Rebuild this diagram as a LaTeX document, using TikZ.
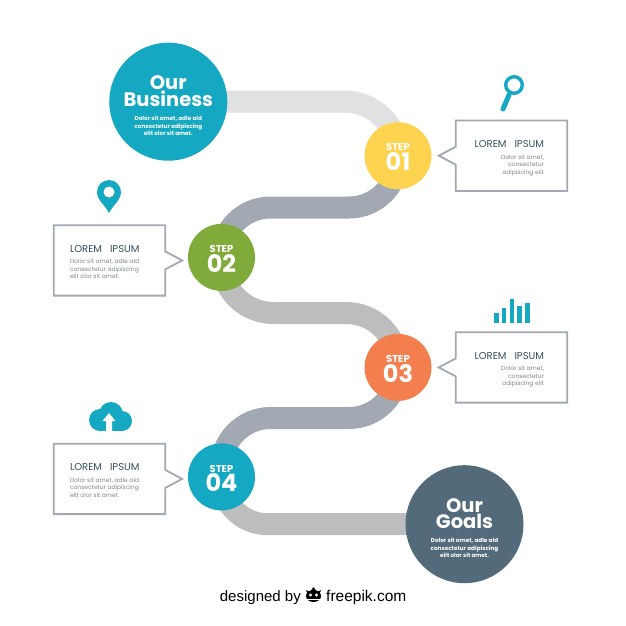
\documentclass[tikz,border=0pt]{standalone}
\usepackage{fontspec}
\usepackage{xcolor}
\usetikzlibrary{positioning, calc, backgrounds}
\setmainfont{Poppins}
\newfontfamily\footfont{Liberation Sans}
\definecolor{tealblue}{HTML}{14A8C2}
\definecolor{slateblue}{HTML}{526A79}
\definecolor{sunyellow}{HTML}{FDD34F}
\definecolor{leafgreen}{HTML}{7FAB3A}
\definecolor{coral}{HTML}{F47F4E}
\definecolor{roadlight}{HTML}{E0E1E3}
\definecolor{roadblue}{HTML}{A2A9B2}
\definecolor{roadgrey}{HTML}{BCBDBF}
\definecolor{headink}{HTML}{36505F}
\definecolor{bodyink}{HTML}{7E8792}
\newcommand{\bigfont}{\fontsize{19.5}{17}\selectfont\bfseries}
\newcommand{\tinyfont}{\fontsize{5.7}{7.5}\selectfont\bfseries}
\newcommand{\steptext}[1]{\rule{0pt}{10pt}{\fontsize{10}{10}\selectfont\bfseries STEP}\\[0.5pt]{\fontsize{24}{19}\selectfont\bfseries #1}}
\newcommand{\goaltext}[2]{\rule{0pt}{22pt}{\bigfont #1}\\[0pt]{\bigfont #2}\\[2.5pt]{\tinyfont Dolor sit amet, adle ald}\\[-4.5pt]{\tinyfont consectetur adipiscing}\\[-4.5pt]{\tinyfont elit olor sit amet.}}

\begin{document}
\begin{tikzpicture}[x=1pt, y=-1pt, on grid,
    enddot/.style={circle, minimum size=118pt, inner sep=0pt, text=white, align=center},
    stepdot/.style={circle, minimum size=67pt, inner sep=0pt, text=white, align=center},
    road/.style={line width=22pt},
    infobox/.style={rectangle, minimum width=111pt, minimum height=70pt, inner sep=0pt},
    boxline/.style={draw=roadblue, line width=1.8pt, fill=white},
    boxhead/.style={text=headink, font=\fontsize{10}{10}\selectfont, inner sep=0pt},
    boxbody/.style={text=bodyink, font=\fontsize{6}{7.5}\selectfont, inner sep=0pt}]
      \useasboundingbox (0,0) rectangle (626,626);
      \node[enddot, fill=tealblue] (business) at (168.3,101.7) {\goaltext{Our}{Business}};
      \node[stepdot, fill=sunyellow, below right= 54pt and 229.7pt of business] (step1) {\steptext{01}};
      \node[stepdot, fill=leafgreen, below left= 101.7pt and 176.5pt of step1] (step2) {\steptext{02}};
      \node[stepdot, fill=coral, below right= 110pt and 176.5pt of step2] (step3) {\steptext{03}};
      \node[stepdot, fill=tealblue, below left= 109.5pt and 176.5pt of step3] (step4) {\steptext{04}};
      \node[enddot, fill=slateblue, below right= 47.3pt and 243pt of step4] (goals) {\goaltext{Our}{Goals}};

      \node[infobox, right= 113.5pt of step1] (box1) {};
      \node[infobox, left= 112pt of step2, yshift=-3pt] (box2) {};
      \node[infobox, right= 113.5pt of step3] (box3) {};
      \node[infobox, left= 112pt of step4, yshift=-2pt] (box4) {};

      \coordinate (bend1) at (310,207.5);
      \coordinate (bend2) at (310,313);
      \coordinate (bend3) at (310,418);
      \begin{scope}[on background layer]
        \draw[road, draw=roadlight, rounded corners=53pt] (business.center) -| (step1.center);
        \draw[road, draw=roadblue, rounded corners=49pt] (step1.center) |- (step2.center |- bend1) -- (step2.center);
        \draw[road, draw=roadgrey, rounded corners=52pt] (step2.center) |- (step3.center |- bend2) -- (step3.center);
        \draw[road, draw=roadblue, rounded corners=49pt] (step3.center) |- (step4.center |- bend3) -- (step4.center);
        \draw[road, draw=roadgrey, rounded corners=46pt] (step4.center) |- (goals.center);
      \end{scope}

      % boxes point at their step
      \foreach \b in {box1, box3}
        \draw[boxline] (\b.north west) -- (\b.north east) -- (\b.south east) -- (\b.south west)
          -- ($(\b.west)+(0,9)$) -- ($(\b.west)+(-17,0)$) -- ($(\b.west)+(0,-9)$) -- cycle;
      \foreach \b in {box2, box4}
        \draw[boxline] (\b.north east) -- (\b.north west) -- (\b.south west) -- (\b.south east)
          -- ($(\b.east)+(0,9)$) -- ($(\b.east)+(17,0)$) -- ($(\b.east)+(0,-9)$) -- cycle;

      \node[boxhead, anchor=east] (head1) at ($(box1.north east)+(-23,23.5)$) {LOREM\ \ \ IPSUM};
      \node[boxbody, anchor=north east, align=right] (body1) at ($(head1.east)+(0,10.5)$) {Dolor sit amet,\\consectetur\\adipiscing elit};
      \node[boxhead, anchor=west] (head2) at ($(box2.north west)+(16,23.5)$) {LOREM\ \ \ IPSUM};
      \node[boxbody, anchor=north west, align=left] (body2) at ($(head2.west)+(0,10.5)$) {Dolor sit amet, adle ald\\consectetur adipiscing\\elit olor sit amet.};
      \node[boxhead, anchor=east] (head3) at ($(box3.north east)+(-23,23.5)$) {LOREM\ \ \ IPSUM};
      \node[boxbody, anchor=north east, align=right] (body3) at ($(head3.east)+(0,10.5)$) {Dolor sit amet,\\consectetur\\adipiscing elit};
      \node[boxhead, anchor=west] (head4) at ($(box4.north west)+(16,23.5)$) {LOREM\ \ \ IPSUM};
      \node[boxbody, anchor=north west, align=left] (body4) at ($(head4.west)+(0,10.5)$) {Dolor sit amet, adle ald\\consectetur adipiscing\\elit olor sit amet.};

      % magnifier
      \draw[tealblue, line width=3.4pt] (514,85) circle (8.3);
      \draw[tealblue, line width=5pt, line cap=round] (509,95) -- (503,109);
      % pin
      \fill[tealblue] (109,213) .. controls (105,205) and (97,200) .. (97,192)
        arc (180:360:12) .. controls (121,200) and (113,205) .. (109,213) -- cycle;
      \fill[white] (109,192) circle (5.5);
      % bars
      \foreach \xa/\ytop in {494/313, 501.7/308, 509.5/299, 517.3/306, 525/303}
        \fill[tealblue] (\xa,\ytop) rectangle (\xa+4.6,323);
      % cloud
      \fill[tealblue] (111,414) circle (12);
      \fill[tealblue] (100,420) circle (11);
      \fill[tealblue] (122,421) circle (10);
      \fill[tealblue] (100,420) rectangle (122,431);
      \fill[white] (109,413) -- (115.5,421) -- (112,421) -- (112,431) -- (106,431) -- (106,421) -- (102.5,421) -- cycle;

      \node[text=black, font=\footfont\fontsize{15}{16}\selectfont, inner sep=0pt, anchor=east] (designed) at (301,597.5) {designed by};
      \node[text=black, font=\footfont\fontsize{15.5}{16}\selectfont, inner sep=0pt, anchor=west] (freepik) at (326,597.5) {freepik.com};
      % logo
      \fill[black] (313.5,596) ellipse (7.5 and 6);
      \fill[black] (306,590) -- (310,592) -- (313.5,587) -- (317,592) -- (321,590) -- (319,595) -- (308,595) -- cycle;
      \fill[white] (310.5,595) circle (1.7);
      \fill[white] (316.5,595) circle (1.7);
      \draw[white, line width=0.7pt] (306,599) -- (321,599);
\end{tikzpicture}
\end{document}
